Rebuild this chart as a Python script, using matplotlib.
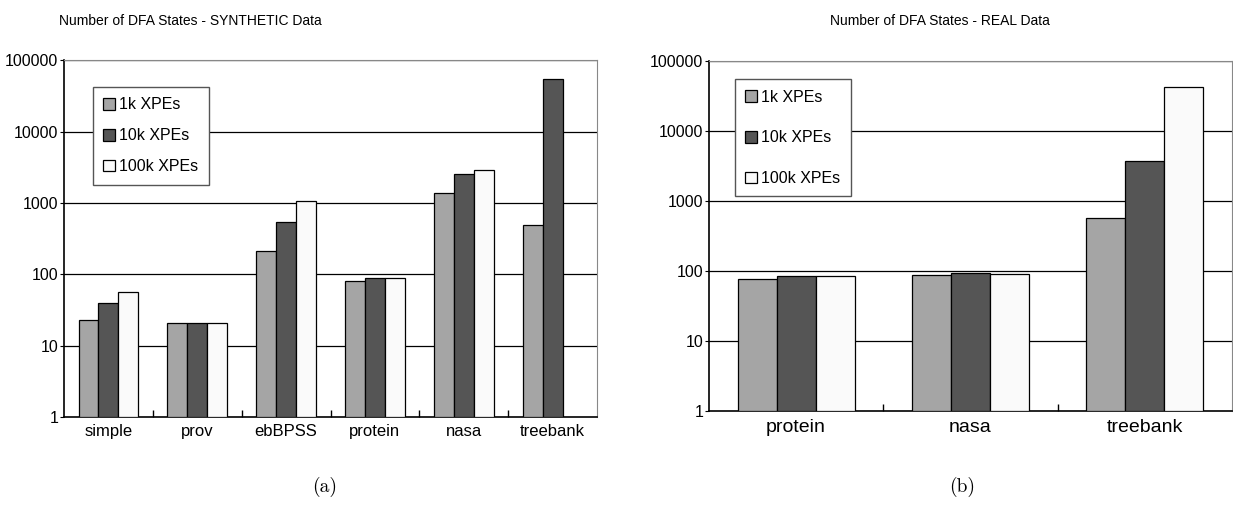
import numpy as np
import matplotlib.pyplot as plt
from matplotlib.ticker import FixedLocator, FixedFormatter, NullLocator

plt.rcParams['font.family'] = ['Liberation Sans', 'DejaVu Sans']

# data
series = ['1k XPEs', '10k XPEs', '100k XPEs']
colors = ['#a5a5a5', '#555555', '#fafafa']

syn_cats = ['simple', 'prov', 'ebBPSS', 'protein', 'nasa', 'treebank']
syn_1k = [23, 21, 213, 81, 1360, 484]
syn_10k = [40, 21, 533, 90, 2570, 53700]
syn_100k = [56, 21, 1050, 90, 2870, np.nan]

real_cats = ['protein', 'nasa', 'treebank']
real_1k = [76, 89, 572]
real_10k = [85, 94, 3720]
real_100k = [85, 92, 42300]

yticks = [1, 10, 100, 1000, 10000, 100000]
ylabels = ['1', '10', '100', '1000', '10000', '100000']


def draw(ax, cats, vals, xfs, xpad, legpos, lspace):
    x = np.arange(len(cats))
    w = 0.224
    for i, (v, c, s) in enumerate(zip(vals, colors, series)):
        v = np.array(v, dtype=float)
        ok = ~np.isnan(v)
        ax.bar(x[ok] + (i - 1) * w, v[ok] - 1, bottom=1, width=w, color=c,
               edgecolor='black', linewidth=0.9, label=s, zorder=3)
    ax.set_yscale('log')
    ax.set_ylim(1, 100000)
    ax.set_xlim(-0.5, len(cats) - 0.5)
    ax.yaxis.set_major_locator(FixedLocator(yticks))
    ax.yaxis.set_major_formatter(FixedFormatter(ylabels))
    ax.yaxis.set_minor_locator(NullLocator())
    for t in yticks[1:]:
        ax.axhline(t, color='black', linewidth=0.9, zorder=1)
    ax.set_xticks(x)
    ax.set_xticklabels(cats, fontsize=xfs)
    ax.set_xticks(x[:-1] + 0.5, minor=True)
    ax.tick_params(axis='x', which='major', length=0, pad=xpad)
    ax.tick_params(axis='x', which='minor', direction='in', length=5, width=1)
    ax.tick_params(axis='y', which='major', direction='out', length=3,
                   labelsize=11.5, pad=1)
    for sp in ['top', 'right']:
        ax.spines[sp].set_color('#888888')
    for sp in ['left', 'bottom']:
        ax.spines[sp].set_linewidth(1.2)
    leg = ax.legend(loc='upper left', bbox_to_anchor=legpos, fontsize=11.5,
                    frameon=True, fancybox=False, edgecolor='#555555',
                    handlelength=0.75, handleheight=0.75, handletextpad=0.25,
                    labelspacing=lspace, borderpad=0.65, borderaxespad=0,
                    framealpha=1)
    leg.get_frame().set_linewidth(1.0)
    leg.set_zorder(5)


fig = plt.figure(figsize=(12.33, 5.21), dpi=100)
ax1 = fig.add_axes([0.0519, 0.1996, 0.4323, 0.685])
ax2 = fig.add_axes([0.575, 0.2111, 0.424, 0.672])

draw(ax1, syn_cats, [syn_1k, syn_10k, syn_100k], 12, 5, (0.054, 0.925), 1.0)
draw(ax2, real_cats, [real_1k, real_10k, real_100k], 14, 6, (0.05, 0.947), 1.6)

fig.text(190 / 1233, 1 - 21 / 521, 'Number of DFA States - SYNTHETIC Data',
         ha='center', va='center', fontsize=10)
fig.text(940 / 1233, 1 - 21 / 521, 'Number of DFA States - REAL Data',
         ha='center', va='center', fontsize=10)
fig.text(325 / 1233, 1 - 487 / 521, '(a)', ha='center', va='center',
         fontsize=14, family=['cmr10', 'DejaVu Serif'])
fig.text(962 / 1233, 1 - 487 / 521, '(b)', ha='center', va='center',
         fontsize=14, family=['cmr10', 'DejaVu Serif'])

fig.savefig('out.png', dpi=100)
